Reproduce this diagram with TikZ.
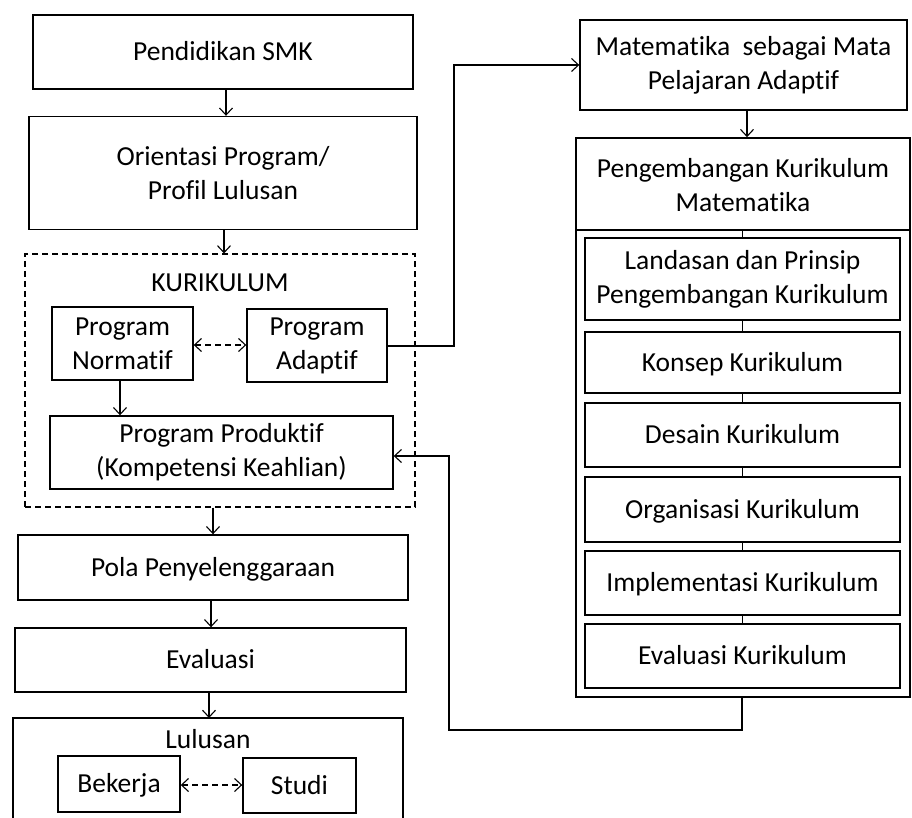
\documentclass[tikz,border=0pt]{standalone}
\usepackage{fontspec}
\setmainfont{Carlito}[Ligatures={NoCommon}]
\usetikzlibrary{arrows.meta}
\begin{document}
\begin{tikzpicture}[x=1pt,y=-1pt,
  box/.style={draw,line width=1.4pt,rectangle,inner sep=2pt,align=center,
    font=\fontsize{27.5}{34}\selectfont},
  one/.style={text height=19pt,text depth=1.5pt},
  lbl/.style={inner sep=0pt,align=center,font=\fontsize{27.5}{34}\selectfont},
  conn/.style={line width=1.1pt,-{Straight Barb[length=7pt,width=13pt,line width=1.1pt]}},
  dconn/.style={line width=1.1pt,dash pattern=on 6pt off 4pt,
    {Straight Barb[length=7pt,width=13pt,line width=1.1pt]}-{Straight Barb[length=7pt,width=13pt,line width=1.1pt]}},
  line/.style={line width=1.1pt}]
\useasboundingbox (0,0) rectangle (912,818);
% left column
\node[box,one,minimum width=380pt,minimum height=74pt] (smk) at (223,52) {Pendidikan SMK};
\node[box,minimum width=388pt,minimum height=113pt] (orient) at (223,173) {Orientasi Program/\\Profil Lulusan};
\node[draw,line width=1.1pt,dash pattern=on 6pt off 4pt,minimum width=390pt,minimum height=253pt] (kur) at (220,380.5) {};
\node[lbl,one] (kurlbl) at (220,283) {KURIKULUM};
\node[box,minimum width=141pt,minimum height=73pt] (norm) at (122.5,343.5) {Program\\Normatif};
\node[box,minimum width=140pt,minimum height=73pt] (adapt) at (317,345.5) {Program\\Adaptif};
\node[box,minimum width=343pt,minimum height=73pt] (prod) at (221.5,452.5) {Program Produktif\\(Kompetensi Keahlian)};
\node[box,one,minimum width=390pt,minimum height=65pt] (pola) at (213,567.5) {Pola Penyelenggaraan};
\node[box,one,minimum width=391pt,minimum height=64pt] (eval) at (210.5,660) {Evaluasi};
\draw[line width=1.4pt] (13,830) |- (403,718) -- (403,830);
\coordinate (lulustop) at (209,718);
\node[lbl,one] (lulus) at (208,740) {Lulusan};
\node[box,one,minimum width=122pt,minimum height=56pt] (bek) at (119,784) {Bekerja};
\node[box,one,minimum width=113pt,minimum height=55pt] (studi) at (299.5,785.5) {Studi};
% right column
\node[box,minimum width=327pt,minimum height=90pt] (mat) at (743.5,65) {Matematika\ \ sebagai Mata\\Pelajaran Adaptif};
\node[draw,line width=1.6pt,minimum width=334pt,minimum height=559pt] (big) at (743,417.5) {};
\coordinate (hdl) at (576,230);
\coordinate (hdr) at (910,230);
\draw[line width=1.4pt] (hdl) -- (hdr);
\node[lbl] (hdrlbl) at (743,185) {Pengembangan Kurikulum\\Matematika};
\node[box,minimum width=315pt,minimum height=82pt] (land) at (742.5,279) {Landasan dan Prinsip\\Pengembangan Kurikulum};
\node[box,one,minimum width=315pt,minimum height=61pt] (kons) at (742.5,362.5) {Konsep Kurikulum};
\node[box,one,minimum width=315pt,minimum height=64pt] (des) at (742.5,435) {Desain Kurikulum};
\node[box,one,minimum width=315pt,minimum height=65pt] (org) at (742.5,509.5) {Organisasi Kurikulum};
\node[box,one,minimum width=315pt,minimum height=64pt] (impl) at (742.5,583) {Implementasi Kurikulum};
\node[box,one,minimum width=315pt,minimum height=64pt] (evk) at (742.5,656) {Evaluasi Kurikulum};
% connectors
\draw[conn] (smk.south -| 226,0) -- (orient.north -| 226,0);
\draw[conn] (orient.south -| 224,0) -- (kur.north -| 224,0);
\draw[dconn] (norm.east |- 0,345) -- (adapt.west |- 0,345);
\draw[conn] (norm.south -| 120,0) -- (prod.north -| 120,0);
\draw[conn] (kur.south -| 213,0) -- (pola.north -| 213,0);
\draw[conn] (pola.south -| 211,0) -- (eval.north -| 211,0);
\draw[conn] (eval.south -| 209,0) -- (lulustop);
\draw[dconn] (bek.east |- 0,785) -- (studi.west |- 0,785);
\coordinate (ja) at (454,346);
\coordinate (jb) at (454,65);
\draw[conn] (adapt.east |- ja) -- (ja) -- (jb) -- (mat.west |- jb);
\draw[conn] (mat.south -| 747,0) -- (big.north -| 747,0);
\coordinate (jc) at (742,730);
\coordinate (jd) at (449,730);
\coordinate (je) at (449,456);
\draw[conn] (big.south -| jc) -- (jc) -- (jd) -- (je) -- (prod.east |- je);
\draw[line] (hdl -| 742.5,0) -- (land.north);
\draw[line] (land.south) -- (kons.north);
\draw[line] (kons.south) -- (des.north);
\draw[line] (des.south) -- (org.north);
\draw[line] (org.south) -- (impl.north);
\draw[line] (impl.south) -- (evk.north);
\end{tikzpicture}
\end{document}
